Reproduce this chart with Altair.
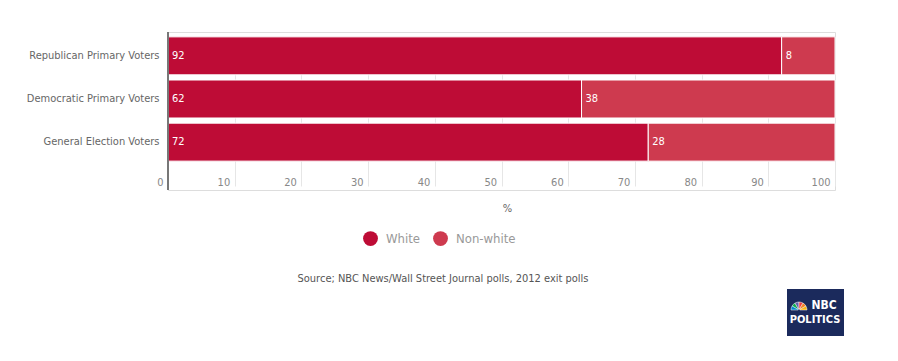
import altair as alt
import pandas as pd

groups = ["Republican Primary Voters", "Democratic Primary Voters", "General Election Voters"]
white = [92, 62, 72]
nonwhite = [8, 38, 28]
series = ["White", "Non-white"]
colors = ["#BE0C36", "#CE3A4F"]
x_ticks = [0, 10, 20, 30, 40, 50, 60, 70, 80, 90, 100]
source_text = "Source; NBC News/Wall Street Journal polls, 2012 exit polls"
peacock_colors = ["#0db14b", "#0089d0", "#6460aa", "#ef3e42", "#f58220", "#fcb711"]

rows = []
for g, w, n in zip(groups, white, nonwhite):
    rows.append({"group": g, "series": "White", "value": w, "start": 0, "end": w, "ord": 0})
    rows.append({"group": g, "series": "Non-white", "value": n, "start": w, "end": w + n, "ord": 1})
df = pd.DataFrame(rows)

FONT = "DejaVu Sans Condensed, sans-serif"
W, H = 667, 158

xscale = alt.Scale(domain=[0, 100], nice=False, zero=True)
yscale = alt.Scale(domain=groups, range=[4, 130], paddingInner=0.12, paddingOuter=0.02)

x_axis = alt.Axis(values=x_ticks, title="%", grid=True, gridColor="#e6e6e6", domain=False,
                  ticks=False, labelAlign="right", labelBaseline="middle", labelPadding=-8,
                  labelOffset=-5, labelColor="#888", labelFontSize=11, titleColor="#666",
                  titleFontSize=11, titleFontWeight="normal", titleX=339, titleY=18,
                  titleBaseline="middle")
y_axis = alt.Axis(title=None, domain=False, ticks=False, labelPadding=9, labelColor="#666",
                  labelFontSize=11, grid=False)

base = alt.Chart(df)

bars = base.mark_bar(stroke="white", strokeWidth=1).encode(
    x=alt.X("start:Q", scale=xscale, axis=x_axis),
    x2="end:Q",
    y=alt.Y("group:N", scale=yscale, sort=groups, axis=y_axis),
    color=alt.Color("series:N", scale=alt.Scale(domain=series, range=colors),
                    legend=alt.Legend(orient="none", legendX=195, legendY=199,
                                      direction="horizontal", title=None,
                                      symbolType="circle", symbolSize=220,
                                      symbolStrokeWidth=0, labelFontSize=13,
                                      labelColor="#999", columnPadding=12, labelOffset=8)),
    order="ord:Q",
)

labels = base.mark_text(align="left", baseline="middle", dx=4, color="white",
                        fontSize=11, font=FONT).encode(
    x=alt.X("start:Q", scale=xscale),
    y=alt.Y("group:N", scale=yscale, sort=groups),
    text="value:Q",
)

axis_line = alt.Chart(pd.DataFrame({"v": [0]})).mark_rule(color="#777", strokeWidth=2).encode(
    x=alt.X("v:Q", scale=xscale), y=alt.value(0), y2=alt.value(H)
)

one = pd.DataFrame({"a": [0]})
src = alt.Chart(one).mark_text(fontSize=11, color="#555", font=FONT, baseline="middle").encode(
    x=alt.value(275), y=alt.value(247), text=alt.value(source_text)
)
logo_box = alt.Chart(one).mark_rect(color="#1b2a5c").encode(
    x=alt.value(619), x2=alt.value(676), y=alt.value(257), y2=alt.value(304)
)
logo_nbc = alt.Chart(one).mark_text(fontSize=12, color="white", font=FONT,
                                    fontWeight="bold", baseline="middle").encode(
    x=alt.value(656), y=alt.value(273), text=alt.value("NBC")
)
logo_pol = alt.Chart(one).mark_text(fontSize=11, color="white", font=FONT,
                                    fontWeight="bold", baseline="middle").encode(
    x=alt.value(647), y=alt.value(288), text=alt.value("POLITICS")
)
peacock = alt.Chart(pd.DataFrame({"c": peacock_colors, "f": [1] * 6})).mark_arc(
    radius=8, radius2=1, stroke="white", strokeWidth=0.5).encode(
    theta=alt.Theta("f:Q", stack=True, scale=alt.Scale(range=[-1.5708, 1.5708])),
    color=alt.Color("c:N", scale=None, legend=None),
    order=alt.Order("c:N", sort="ascending"),
    x=alt.value(631), y=alt.value(278),
)

chart = alt.layer(bars, labels, axis_line, src, logo_box, logo_nbc, logo_pol, peacock).properties(
    width=W, height=H,
    autosize=alt.AutoSizeParams(type="none"),
    padding={"left": 160, "top": 24, "right": 50, "bottom": 155},
).configure_view(stroke=None).configure(font=FONT, background="white")

chart.save("out.html", embed_options={"renderer": "svg", "actions": False})
